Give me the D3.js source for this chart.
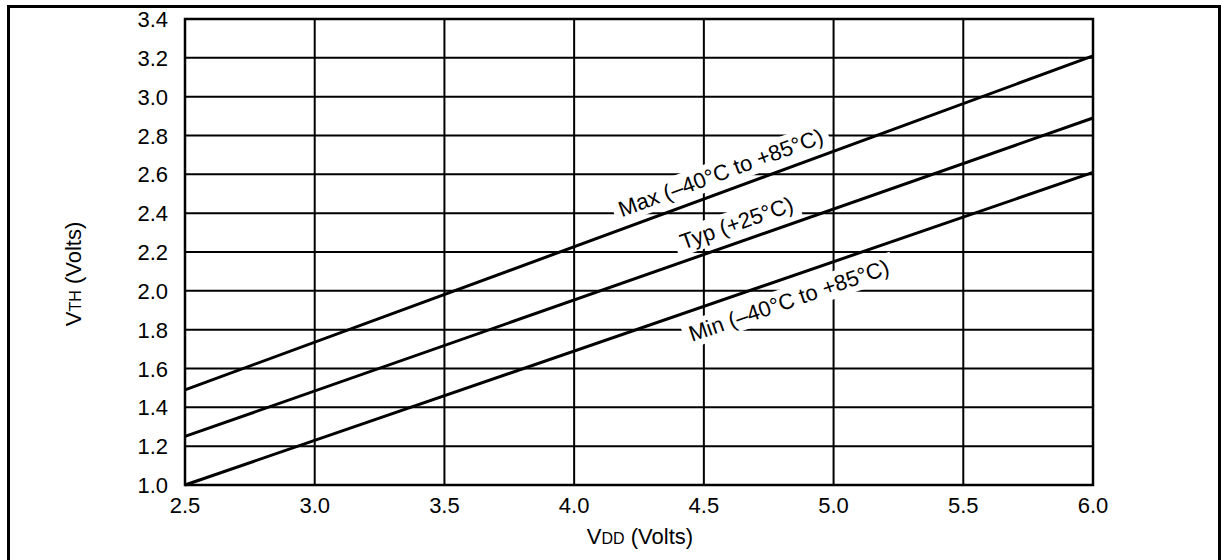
<!DOCTYPE html>
<html><head><meta charset="utf-8">
<script src="https://cdn.jsdelivr.net/npm/d3@7"></script>
<style>body{margin:0;background:#fff}svg{display:block;font-family:"Liberation Sans",Arial,sans-serif}</style>
</head><body><svg id="c" width="1221" height="560"></svg>
<script>
const vdd = [2.5, 6.0];
const vthMax = [1.49, 3.21];
const vthTyp = [1.25, 2.89];
const vthMin = [1.00, 2.61];
const xTicks = [2.5,3.0,3.5,4.0,4.5,5.0,5.5,6.0];
const yTicks = [1.0,1.2,1.4,1.6,1.8,2.0,2.2,2.4,2.6,2.8,3.0,3.2,3.4];
const seriesNames = ["Max (–40°C to +85°C)","Typ (+25°C)","Min (–40°C to +85°C)"];
const labelAt = [4.59, 4.65, 4.80];   // VDD where each label sits
const labelOffset = [19, 19, -22];     // perpendicular px offset (+ above)

const svg = d3.select("#c");
const x = d3.scaleLinear().domain([2.5,6.0]).range([185,1093]);
const y = d3.scaleLinear().domain([1.0,3.4]).range([485,19]);
const FS = 22;

// outer frame
svg.append("rect").attr("x",8.5).attr("y",6.5).attr("width",1211).attr("height",600)
  .attr("fill","none").attr("stroke","#000").attr("stroke-width",3);

// grid
const g = svg.append("g");
g.selectAll(".v").data(xTicks).join("line")
  .attr("x1",d=>x(d)).attr("x2",d=>x(d)).attr("y1",y(1.0)).attr("y2",y(3.4))
  .attr("stroke","#000").attr("stroke-width",2);
g.selectAll(".h").data(yTicks).join("line")
  .attr("x1",x(2.5)).attr("x2",x(6.0)).attr("y1",d=>y(d)).attr("y2",d=>y(d))
  .attr("stroke","#000").attr("stroke-width",2);
g.append("rect").attr("x",x(2.5)).attr("y",y(3.4)).attr("width",x(6)-x(2.5)).attr("height",y(1)-y(3.4))
  .attr("fill","none").attr("stroke","#000").attr("stroke-width",2.5);

// tick labels
svg.selectAll(".yl").data(yTicks).join("text")
  .attr("x",168).attr("y",d=>y(d)+8).attr("text-anchor","end")
  .attr("font-size",FS).text(d=>d.toFixed(1));
svg.selectAll(".xl").data(xTicks).join("text")
  .attr("x",d=>x(d)).attr("y",513).attr("text-anchor","middle")
  .attr("font-size",FS).text(d=>d.toFixed(1));

// axis titles
const xt = svg.append("text").attr("x",640).attr("y",544).attr("text-anchor","middle").attr("font-size",FS);
xt.append("tspan").text("V");
xt.append("tspan").attr("font-size",16).text("DD");
xt.append("tspan").text(" (Volts)");
const yt = svg.append("text").attr("transform","translate(81,274) rotate(-90)").attr("text-anchor","middle").attr("font-size",FS);
yt.append("tspan").text("V");
yt.append("tspan").attr("font-size",16).text("TH");
yt.append("tspan").text(" (Volts)");

const series = [vthMax, vthTyp, vthMin];
const line = d3.line().x(d=>x(d[0])).y(d=>y(d[1]));

// labels with white knockout boxes
const labels = svg.append("g");
series.forEach((s,i)=>{
  const slope = (s[1]-s[0])/(vdd[1]-vdd[0]);
  const xv = labelAt[i];
  const yv = s[0] + slope*(xv-vdd[0]);
  const px = x(xv), py = y(yv);
  const ang = Math.atan2(y(s[1])-y(s[0]), x(vdd[1])-x(vdd[0]));
  const nx = Math.sin(ang), ny = -Math.cos(ang);
  const cx = px + nx*labelOffset[i], cy = py + ny*labelOffset[i];
  const lg = labels.append("g").attr("transform",`translate(${cx},${cy}) rotate(${ang*180/Math.PI})`);
  const t = lg.append("text").attr("text-anchor","middle").attr("dy","0.35em")
    .attr("font-size",FS).text(seriesNames[i]);
  const bb = t.node().getBBox();
  lg.insert("rect","text").attr("x",bb.x-6).attr("y",bb.y-1).attr("width",bb.width+12).attr("height",bb.height+2).attr("fill","#fff");
});

// data lines
svg.append("g").selectAll("path").data(series).join("path")
  .attr("d",s=>line(vdd.map((v,j)=>[v,s[j]])))
  .attr("fill","none").attr("stroke","#000").attr("stroke-width",3);
</script></body></html>
